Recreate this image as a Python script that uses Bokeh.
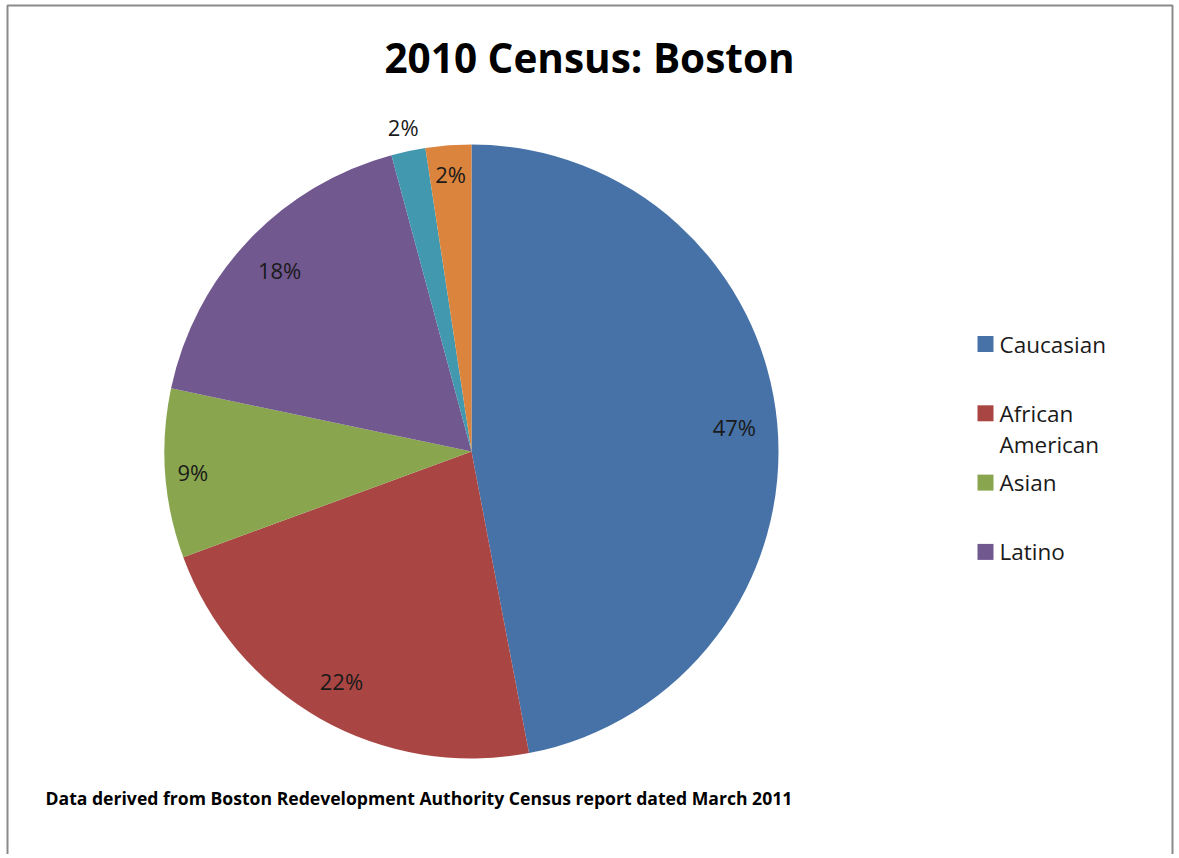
import math
from bokeh.plotting import figure
from bokeh.models import Range1d, ColumnDataSource
from bokeh.core.properties import value
from bokeh.embed import file_html
from bokeh.resources import INLINE

# ---------------- data ----------------
categories = ["Caucasian", "African American", "Asian", "Latino", "Other", "Multi-Racial"]
shares = [47.0, 22.4, 8.9, 17.5, 1.8, 2.4]
colors = ["#4672A8", "#A94643", "#89A54E", "#71588F", "#4198AF", "#DB843D"]
title_text = "2010 Census: Boston"
note_text = "Data derived from Boston Redevelopment Authority Census report dated March 2011"
legend_shown = 4  # the legend box only has room for the first four entries

# ---------------- layout ----------------
W, H = 1176, 854
FONT = "Open Sans"
cx, cy, R = 471, H - 451, 307
label_r = [0.86, 0.86, 0.91, 0.86, 1.08, 0.905]

p = figure(width=W, height=H, output_backend="svg", toolbar_location=None,
           x_range=Range1d(0, W), y_range=Range1d(0, H), min_border=0)
p.axis.visible = False
p.grid.visible = False
p.outline_line_color = None
p.background_fill_color = "white"
p.border_fill_color = "white"

# frame (open at the bottom, continues past the page)
p.line([7, 7, 1172, 1172], [0, H - 5, H - 5, 0], line_color="#8a8a8a", line_width=2)

# wedges (clockwise from 12 o'clock)
total = sum(shares)
starts, ends, lx, ly, labels = [], [], [], [], []
cum = 0.0
for i, v in enumerate(shares):
    a0 = cum / total
    a1 = (cum + v) / total
    starts.append(math.pi / 2 - 2 * math.pi * a1)
    ends.append(math.pi / 2 - 2 * math.pi * a0)
    mid = 2 * math.pi * (a0 + a1) / 2
    rr = R * label_r[i]
    lx.append(cx + rr * math.sin(mid))
    ly.append(cy + rr * math.cos(mid))
    labels.append(f"{int(v + 0.5)}%")
    cum += v

src = ColumnDataSource(dict(start=starts, end=ends, color=colors, lx=lx, ly=ly, label=labels))
p.wedge(x=cx, y=cy, radius=R, start_angle="start", end_angle="end", fill_color="color",
        line_color=None, source=src)
p.text(x="lx", y="ly", text="label", source=src, text_font=value(FONT), text_font_size="22px",
       text_color="#1a1a1a", text_align="center", text_baseline="middle")

# title
p.text(x=[589], y=[H - 57], text=[title_text], text_font=value(FONT), text_font_size="40.5px",
       text_font_style="bold", text_color="black", text_align="center", text_baseline="middle")

# footnote
p.text(x=[45], y=[H - 797], text=[note_text], text_font=value(FONT), text_font_size="17.6px",
       text_font_style="bold", text_color="black", text_align="left", text_baseline="middle")

# legend (manual)
leg_x, leg_top, leg_step, sq = 977, H - 343.5, 69.3, 16
line_h = 31
sx, sy, scol, tx, ty, tt = [], [], [], [], [], []
for i in range(legend_shown):
    yc = leg_top - i * leg_step
    sx.append(leg_x + sq / 2)
    sy.append(yc)
    scol.append(colors[i])
    name = categories[i]
    parts = name.split(" ") if len(name) > 12 else [name]
    for j, part in enumerate(parts):
        tx.append(leg_x + 22)
        ty.append(yc - j * line_h)
        tt.append(part)
p.rect(x=sx, y=sy, width=sq, height=sq, fill_color=scol, line_color=None)
p.text(x=tx, y=ty, text=tt, text_font=value(FONT), text_font_size="22.5px",
       text_color="#1a1a1a", text_align="left", text_baseline="middle")

open("out.html", "w").write(file_html(p, INLINE))
